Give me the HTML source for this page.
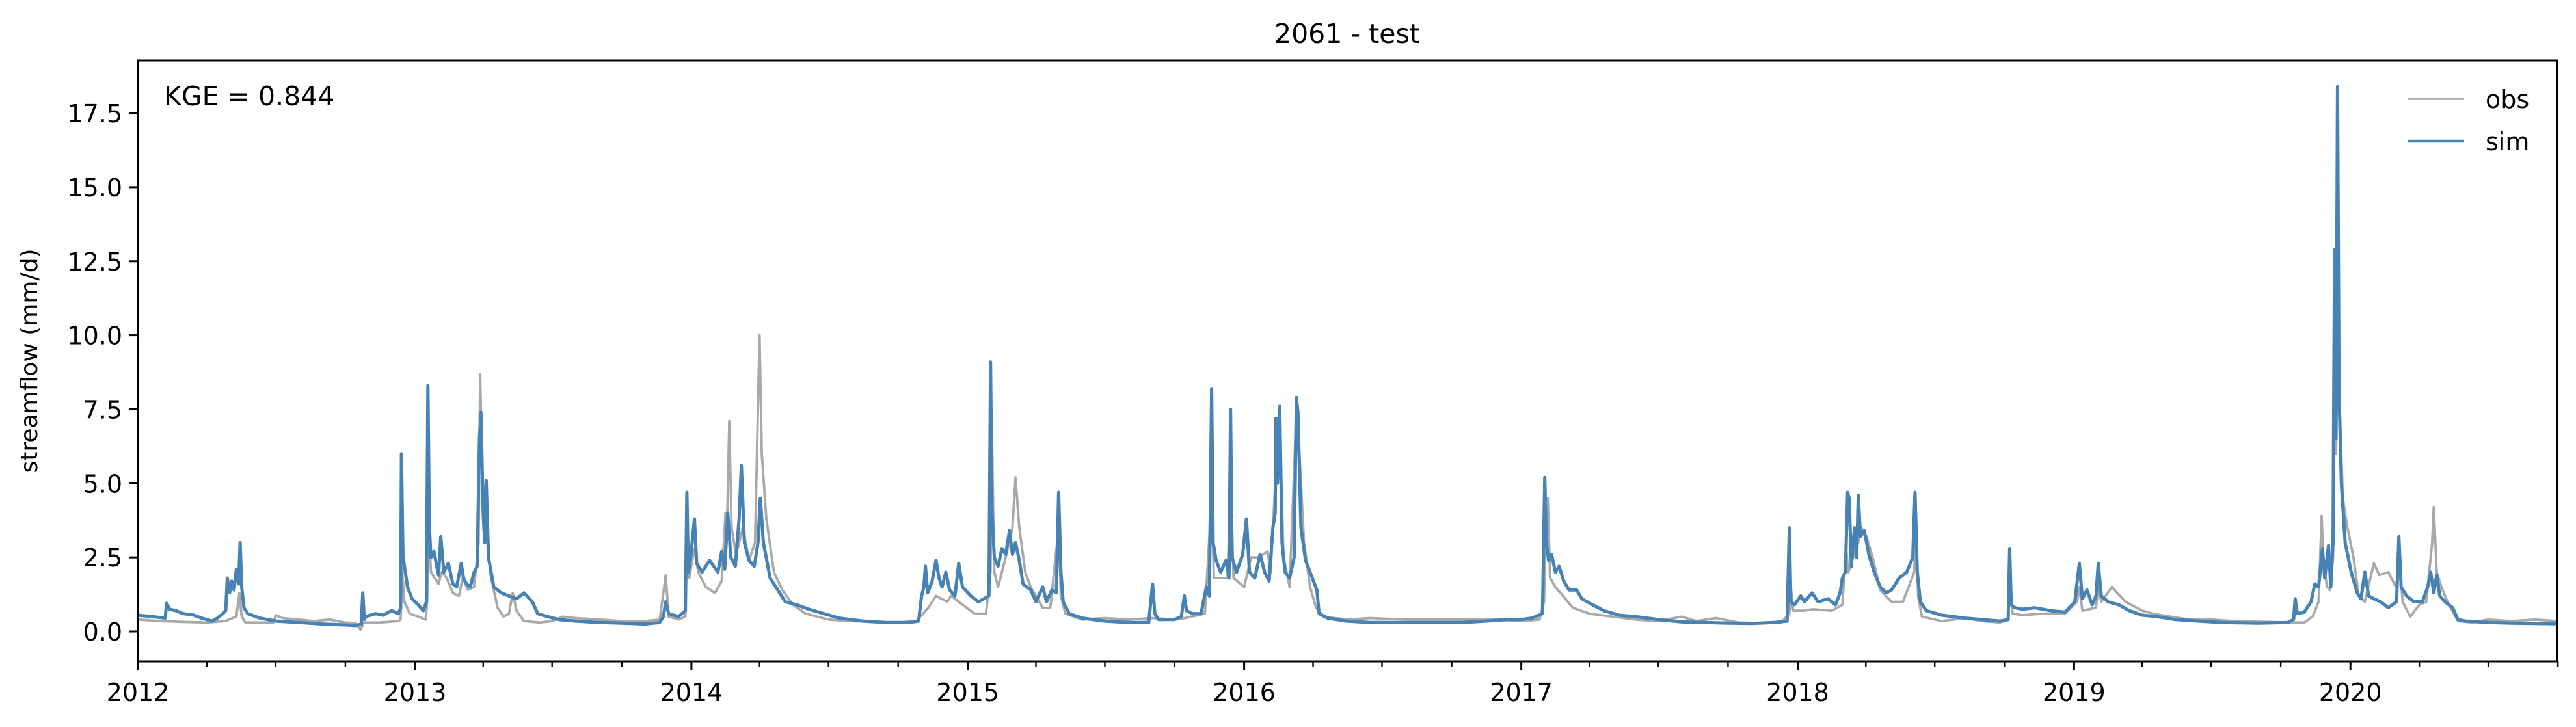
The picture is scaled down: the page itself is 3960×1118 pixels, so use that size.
<!DOCTYPE html>
<html><head><meta charset="utf-8"><title>2061 - test</title>
<style>
html,body{margin:0;padding:0;background:#fff;}
svg{display:block;font-family:"DejaVu Sans","Liberation Sans",sans-serif;}
</style></head>
<body>
<svg id="chart" width="3960" height="1118" viewBox="0 0 3960 1118" xmlns="http://www.w3.org/2000/svg">
<rect x="0" y="0" width="3960" height="1118" fill="#fff"/>
<text x="2071" y="66" font-size="41" text-anchor="middle">2061 - test</text>
<text transform="translate(57,555) rotate(-90)" font-size="36" text-anchor="middle">streamflow (mm/d)</text>
<g id="plot"></g>
<text x="252" y="162" font-size="41">KGE = 0.844</text>
<g>
<line x1="3701" y1="152" x2="3788" y2="152" stroke="#a9a9a9" stroke-width="3.5"/>
<text x="3821" y="166" font-size="38">obs</text>
<line x1="3701" y1="217" x2="3788" y2="217" stroke="#4682b4" stroke-width="4.5"/>
<text x="3821" y="231" font-size="38">sim</text>
</g>
</svg>
<script>
const obsPoints = [
["2012-01-01",0.4],["2012-02-01",0.35],["2012-03-01",0.32],["2012-04-01",0.3],["2012-04-25",0.35],["2012-05-10",0.5],["2012-05-14",1.3],["2012-05-17",0.5],["2012-05-22",0.3],["2012-06-15",0.3],["2012-06-28",0.3],["2012-07-01",0.55],["2012-07-10",0.45],["2012-08-01",0.4],["2012-08-20",0.35],["2012-09-10",0.4],["2012-09-30",0.3],["2012-10-15",0.28],["2012-10-21",0.05],["2012-10-25",0.3],["2012-11-15",0.3],["2012-12-10",0.35],["2012-12-13",0.4],["2012-12-15",2.0],["2012-12-18",1.0],["2012-12-25",0.6],
["2013-01-05",0.5],["2013-01-15",0.4],["2013-01-17",1.0],["2013-01-19",3.5],["2013-01-22",2.0],["2013-02-01",1.6],["2013-02-05",2.0],["2013-02-12",1.8],["2013-02-20",1.3],["2013-02-28",1.2],["2013-03-05",1.8],["2013-03-12",1.4],["2013-03-20",1.5],["2013-03-26",3.0],["2013-03-28",8.7],["2013-03-31",5.0],["2013-04-05",4.5],["2013-04-10",2.0],["2013-04-20",0.8],["2013-04-28",0.5],["2013-05-05",0.6],["2013-05-10",1.3],["2013-05-15",0.7],["2013-05-25",0.35],["2013-06-15",0.3],["2013-07-01",0.35],["2013-07-15",0.5],["2013-08-01",0.45],["2013-09-01",0.4],["2013-10-01",0.35],["2013-11-01",0.35],["2013-11-20",0.4],["2013-11-26",1.5],["2013-11-28",1.9],["2013-12-02",0.5],["2013-12-15",0.4],["2013-12-24",0.5],["2013-12-26",3.0],["2013-12-29",1.8],
["2014-01-05",2.8],["2014-01-10",2.0],["2014-01-20",1.5],["2014-02-01",1.3],["2014-02-10",1.7],["2014-02-15",4.0],["2014-02-17",3.5],["2014-02-20",7.1],["2014-02-23",3.5],["2014-03-01",2.6],["2014-03-10",3.5],["2014-03-18",2.4],["2014-03-26",3.0],["2014-04-01",10.0],["2014-04-04",6.0],["2014-04-10",3.8],["2014-04-20",2.0],["2014-05-01",1.4],["2014-05-15",0.9],["2014-06-01",0.6],["2014-07-01",0.4],["2014-08-01",0.35],["2014-10-01",0.3],["2014-10-25",0.35],["2014-11-10",0.8],["2014-11-20",1.2],["2014-12-05",1.0],["2014-12-10",1.2],["2014-12-20",1.0],
["2015-01-10",0.6],["2015-01-25",0.6],["2015-01-31",2.0],["2015-02-02",6.5],["2015-02-05",2.0],["2015-02-10",1.5],["2015-02-20",2.5],["2015-03-01",3.5],["2015-03-05",5.2],["2015-03-10",3.5],["2015-03-18",2.0],["2015-03-25",1.5],["2015-04-10",0.8],["2015-04-20",0.8],["2015-05-01",3.5],["2015-05-04",1.2],["2015-05-10",0.6],["2015-06-01",0.4],["2015-07-01",0.45],["2015-08-01",0.4],["2015-09-01",0.45],["2015-10-01",0.4],["2015-10-15",0.45],["2015-11-10",0.6],["2015-11-19",4.5],["2015-11-22",1.8],["2015-12-10",1.8],["2015-12-14",5.0],["2015-12-18",1.8],
["2016-01-01",1.5],["2016-01-10",2.5],["2016-01-20",2.5],["2016-02-01",2.7],["2016-02-05",2.0],["2016-02-11",5.0],["2016-02-12",6.5],["2016-02-17",7.0],["2016-02-22",2.5],["2016-03-01",1.5],["2016-03-10",7.5],["2016-03-14",6.0],["2016-03-20",3.0],["2016-03-28",1.5],["2016-04-05",0.8],["2016-04-15",0.5],["2016-05-15",0.4],["2016-06-15",0.45],["2016-08-01",0.4],["2016-10-01",0.4],["2016-12-01",0.4],
["2017-01-01",0.35],["2017-01-25",0.4],["2017-01-31",1.0],["2017-02-02",3.5],["2017-02-05",4.5],["2017-02-08",1.8],["2017-02-15",1.5],["2017-02-25",1.2],["2017-03-10",0.8],["2017-04-01",0.6],["2017-05-01",0.5],["2017-06-01",0.4],["2017-07-01",0.35],["2017-08-01",0.5],["2017-08-20",0.35],["2017-09-15",0.45],["2017-10-15",0.3],["2017-11-15",0.28],["2017-12-10",0.3],["2017-12-21",0.6],["2017-12-23",1.5],["2017-12-26",0.7],
["2018-01-10",0.7],["2018-01-20",0.75],["2018-02-15",0.7],["2018-03-01",0.9],["2018-03-06",2.8],["2018-03-09",2.0],["2018-03-15",2.5],["2018-03-22",3.0],["2018-03-26",3.5],["2018-04-02",3.2],["2018-04-10",2.5],["2018-04-20",1.4],["2018-05-05",1.0],["2018-05-20",1.0],["2018-06-04",2.0],["2018-06-06",4.0],["2018-06-09",1.2],["2018-06-14",0.5],["2018-07-10",0.35],["2018-08-10",0.45],["2018-09-01",0.35],["2018-09-25",0.3],["2018-10-06",0.4],["2018-10-08",1.5],["2018-10-12",0.6],["2018-10-25",0.55],["2018-11-20",0.6],["2018-12-20",0.6],
["2019-01-05",1.0],["2019-01-08",1.5],["2019-01-12",0.7],["2019-01-30",0.8],["2019-02-02",1.5],["2019-02-06",1.0],["2019-02-20",1.5],["2019-03-10",1.0],["2019-04-01",0.7],["2019-04-15",0.6],["2019-06-01",0.4],["2019-07-01",0.4],["2019-08-01",0.35],["2019-10-15",0.3],["2019-11-01",0.3],["2019-11-12",0.5],["2019-11-20",1.0],["2019-11-24",3.9],["2019-11-26",2.5],["2019-12-01",1.5],["2019-12-05",1.4],["2019-12-09",2.5],["2019-12-11",10.7],["2019-12-13",6.0],["2019-12-15",10.5],["2019-12-18",7.5],["2019-12-22",4.5],["2019-12-28",3.5],
["2020-01-05",2.5],["2020-01-12",1.2],["2020-01-20",1.0],["2020-02-01",2.3],["2020-02-08",1.9],["2020-02-20",2.0],["2020-03-01",1.5],["2020-03-06",2.3],["2020-03-10",1.0],["2020-03-20",0.5],["2020-04-01",0.9],["2020-04-10",1.0],["2020-04-18",3.0],["2020-04-20",4.2],["2020-04-24",2.0],["2020-04-30",1.5],["2020-05-10",0.9],["2020-05-22",0.35],["2020-06-10",0.3],["2020-07-01",0.4],["2020-08-01",0.35],["2020-09-01",0.4],["2020-09-30",0.35]
];
const simPoints = [
["2012-01-01",0.55],["2012-01-20",0.5],["2012-02-06",0.45],["2012-02-08",0.95],["2012-02-12",0.75],["2012-02-20",0.7],["2012-03-01",0.6],["2012-03-15",0.55],["2012-03-25",0.45],["2012-04-08",0.35],["2012-04-15",0.45],["2012-04-22",0.6],["2012-04-26",0.7],["2012-04-28",1.8],["2012-05-01",1.3],["2012-05-04",1.7],["2012-05-07",1.4],["2012-05-10",2.1],["2012-05-13",1.6],["2012-05-15",3.0],["2012-05-17",1.5],["2012-05-20",0.8],["2012-05-25",0.6],["2012-06-10",0.45],["2012-07-01",0.35],["2012-08-01",0.3],["2012-09-01",0.25],["2012-10-01",0.22],["2012-10-15",0.2],["2012-10-22",0.25],["2012-10-24",1.3],["2012-10-26",0.4],["2012-10-28",0.5],["2012-11-10",0.6],["2012-11-20",0.55],["2012-12-01",0.7],["2012-12-10",0.6],["2012-12-13",0.8],["2012-12-14",6.0],["2012-12-16",2.6],["2012-12-18",2.2],["2012-12-22",1.5],["2012-12-28",1.1],
["2013-01-05",0.9],["2013-01-12",0.7],["2013-01-16",1.0],["2013-01-18",8.3],["2013-01-20",3.5],["2013-01-22",2.5],["2013-01-26",2.7],["2013-02-01",1.9],["2013-02-04",3.2],["2013-02-08",2.0],["2013-02-14",2.3],["2013-02-20",1.6],["2013-02-25",1.5],["2013-03-03",2.3],["2013-03-06",1.8],["2013-03-10",1.6],["2013-03-15",1.5],["2013-03-20",2.0],["2013-03-24",2.2],["2013-03-27",6.5],["2013-03-29",7.4],["2013-04-01",4.0],["2013-04-03",3.0],["2013-04-05",5.1],["2013-04-08",2.5],["2013-04-15",1.5],["2013-04-25",1.3],["2013-05-05",1.2],["2013-05-15",1.1],["2013-05-25",1.3],["2013-06-05",1.0],["2013-06-12",0.6],["2013-06-25",0.5],["2013-07-10",0.4],["2013-08-01",0.35],["2013-09-01",0.3],["2013-10-01",0.28],["2013-11-01",0.25],["2013-11-20",0.3],["2013-11-25",0.5],["2013-11-28",1.0],["2013-12-02",0.6],["2013-12-15",0.5],["2013-12-24",0.7],["2013-12-26",4.7],["2013-12-28",2.0],["2013-12-31",2.5],
["2014-01-05",3.8],["2014-01-08",2.3],["2014-01-15",2.0],["2014-01-25",2.4],["2014-02-05",2.0],["2014-02-10",2.7],["2014-02-14",2.1],["2014-02-18",4.0],["2014-02-22",2.5],["2014-02-28",2.2],["2014-03-05",3.8],["2014-03-08",5.6],["2014-03-12",3.0],["2014-03-18",2.4],["2014-03-25",2.2],["2014-03-30",3.0],["2014-04-02",4.5],["2014-04-06",3.0],["2014-04-15",1.8],["2014-04-25",1.4],["2014-05-05",1.0],["2014-05-20",0.9],["2014-06-05",0.75],["2014-06-25",0.6],["2014-07-15",0.45],["2014-08-15",0.35],["2014-09-15",0.3],["2014-10-15",0.3],["2014-10-28",0.35],["2014-11-01",1.2],["2014-11-04",1.5],["2014-11-06",2.2],["2014-11-09",1.3],["2014-11-15",1.7],["2014-11-20",2.4],["2014-11-24",1.8],["2014-11-28",1.5],["2014-12-03",2.0],["2014-12-08",1.4],["2014-12-15",1.2],["2014-12-20",2.3],["2014-12-25",1.5],
["2015-01-05",1.2],["2015-01-15",1.0],["2015-01-29",1.2],["2015-01-31",9.1],["2015-02-02",4.0],["2015-02-05",2.5],["2015-02-10",2.2],["2015-02-15",2.8],["2015-02-20",2.6],["2015-02-25",3.4],["2015-03-01",2.6],["2015-03-05",3.0],["2015-03-10",2.4],["2015-03-15",1.6],["2015-03-25",1.4],["2015-04-01",1.0],["2015-04-10",1.5],["2015-04-15",1.0],["2015-04-22",1.4],["2015-04-28",1.3],["2015-05-01",4.7],["2015-05-04",2.0],["2015-05-07",1.0],["2015-05-15",0.6],["2015-06-01",0.45],["2015-07-01",0.35],["2015-08-01",0.3],["2015-08-28",0.3],["2015-09-02",1.6],["2015-09-05",0.6],["2015-09-10",0.4],["2015-10-01",0.4],["2015-10-10",0.5],["2015-10-14",1.2],["2015-10-17",0.7],["2015-10-25",0.6],["2015-11-05",0.6],["2015-11-12",1.5],["2015-11-16",1.2],["2015-11-19",8.2],["2015-11-21",3.0],["2015-11-25",2.4],["2015-12-01",2.0],["2015-12-08",2.4],["2015-12-12",1.8],["2015-12-14",7.5],["2015-12-16",2.5],["2015-12-22",2.0],["2015-12-30",2.6],
["2016-01-04",3.8],["2016-01-08",2.0],["2016-01-15",1.8],["2016-01-22",2.6],["2016-01-28",2.0],["2016-02-03",1.7],["2016-02-08",3.5],["2016-02-11",4.0],["2016-02-12",7.2],["2016-02-14",5.0],["2016-02-17",7.6],["2016-02-20",3.0],["2016-02-24",2.0],["2016-03-01",1.8],["2016-03-07",2.5],["2016-03-10",7.9],["2016-03-12",7.4],["2016-03-16",3.5],["2016-03-22",2.4],["2016-03-28",2.0],["2016-04-03",1.6],["2016-04-06",1.4],["2016-04-09",0.6],["2016-04-20",0.45],["2016-05-15",0.35],["2016-06-15",0.3],["2016-08-01",0.3],["2016-09-15",0.3],["2016-10-15",0.3],["2016-11-15",0.35],["2016-12-15",0.4],
["2017-01-01",0.4],["2017-01-15",0.45],["2017-01-29",0.6],["2017-02-01",5.2],["2017-02-03",3.0],["2017-02-06",2.4],["2017-02-10",2.6],["2017-02-15",2.0],["2017-02-20",2.2],["2017-02-26",1.7],["2017-03-05",1.4],["2017-03-15",1.4],["2017-03-22",1.1],["2017-04-05",0.9],["2017-04-20",0.7],["2017-05-10",0.55],["2017-06-01",0.5],["2017-07-01",0.4],["2017-08-01",0.32],["2017-09-01",0.3],["2017-10-01",0.28],["2017-11-01",0.27],["2017-12-01",0.3],["2017-12-18",0.35],["2017-12-21",3.5],["2017-12-23",1.0],["2017-12-28",0.9],
["2018-01-05",1.2],["2018-01-10",1.0],["2018-01-20",1.3],["2018-01-28",1.0],["2018-02-10",1.1],["2018-02-20",0.9],["2018-02-26",1.3],["2018-03-01",1.8],["2018-03-05",2.0],["2018-03-08",4.7],["2018-03-10",4.5],["2018-03-13",2.2],["2018-03-17",3.5],["2018-03-20",2.5],["2018-03-22",4.6],["2018-03-25",3.2],["2018-03-30",3.4],["2018-04-05",2.6],["2018-04-12",2.0],["2018-04-20",1.5],["2018-04-28",1.3],["2018-05-05",1.4],["2018-05-15",1.8],["2018-05-25",2.0],["2018-06-02",2.5],["2018-06-05",4.7],["2018-06-08",2.0],["2018-06-12",1.0],["2018-06-20",0.7],["2018-07-10",0.55],["2018-08-10",0.45],["2018-09-01",0.4],["2018-09-25",0.35],["2018-10-06",0.4],["2018-10-08",2.8],["2018-10-10",0.9],["2018-10-15",0.8],["2018-10-25",0.75],["2018-11-10",0.8],["2018-12-01",0.7],["2018-12-20",0.65],
["2019-01-02",1.0],["2019-01-08",2.3],["2019-01-12",1.1],["2019-01-18",1.4],["2019-01-25",0.9],["2019-01-30",1.2],["2019-02-02",2.3],["2019-02-06",1.2],["2019-02-15",1.0],["2019-03-01",0.9],["2019-03-15",0.7],["2019-04-01",0.55],["2019-04-20",0.5],["2019-05-15",0.4],["2019-06-15",0.35],["2019-07-15",0.3],["2019-09-01",0.28],["2019-10-10",0.3],["2019-10-18",0.4],["2019-10-20",1.1],["2019-10-23",0.6],["2019-11-01",0.65],["2019-11-10",1.0],["2019-11-15",1.6],["2019-11-20",1.5],["2019-11-25",2.8],["2019-11-28",1.8],["2019-12-03",2.9],["2019-12-06",1.5],["2019-12-09",3.0],["2019-12-11",12.9],["2019-12-13",6.5],["2019-12-15",18.4],["2019-12-17",8.0],["2019-12-20",5.0],["2019-12-25",3.0],
["2020-01-02",2.0],["2020-01-10",1.3],["2020-01-15",1.1],["2020-01-20",2.0],["2020-01-25",1.2],["2020-02-01",1.1],["2020-02-10",1.0],["2020-02-20",0.8],["2020-03-02",1.0],["2020-03-05",3.2],["2020-03-08",1.5],["2020-03-15",1.2],["2020-03-25",1.0],["2020-04-05",1.0],["2020-04-12",1.5],["2020-04-16",2.0],["2020-04-20",1.3],["2020-04-24",1.9],["2020-04-28",1.2],["2020-05-05",1.0],["2020-05-15",0.8],["2020-05-22",0.4],["2020-06-01",0.35],["2020-07-01",0.3],["2020-08-01",0.28],["2020-09-30",0.26]
];
const yTickValues = [0.0,2.5,5.0,7.5,10.0,12.5,15.0,17.5];
const yTickLabels = ["0.0","2.5","5.0","7.5","10.0","12.5","15.0","17.5"];
const xTickYears = [2012,2013,2014,2015,2016,2017,2018,2019,2020];

const L=212,R=3931,T=93,B=1017;
const t0=Date.UTC(2012,0,1), t1=Date.UTC(2020,8,30);
const yMin=-1.01, yMax=19.28;
function xs(d){const t=(typeof d==="string")?Date.parse(d+"T00:00:00Z"):d;return L+(t-t0)/(t1-t0)*(R-L);}
function ys(v){return B-(v-yMin)/(yMax-yMin)*(B-T);}
const NS="http://www.w3.org/2000/svg";
const plot=document.getElementById('plot');
function mk(tag,attrs){const e=document.createElementNS(NS,tag);for(const k in attrs)e.setAttribute(k,attrs[k]);return e;}

const cp=mk('clipPath',{id:'clip'});cp.appendChild(mk('rect',{x:L,y:T,width:R-L,height:B-T}));plot.appendChild(cp);

function series(pts,color,w,name){
  const p=pts.map(q=>xs(q[0]).toFixed(1)+","+ys(q[1]).toFixed(1)).join(" ");
  const pl=mk('polyline',{points:p,fill:'none',stroke:color,'stroke-width':w,'stroke-linejoin':'round','clip-path':'url(#clip)'});
  
  
  plot.appendChild(pl);
}
series(obsPoints,'#a9a9a9',3.8,'obs-line');
series(simPoints,'#4682b4',5,'sim-line');

const fr=mk('rect',{x:L,y:T,width:R-L,height:B-T,fill:'none',stroke:'#000','stroke-width':3});


plot.appendChild(fr);

yTickValues.forEach((v,i)=>{
  const y=ys(v);
  const tk=mk('line',{x1:L-14,y1:y,x2:L,y2:y,stroke:'#000','stroke-width':3});
  
  
  plot.appendChild(tk);
  const tx=mk('text',{x:L-24,y:y+14,'font-size':38,'text-anchor':'end'});
  tx.textContent=yTickLabels[i];
  
  
  plot.appendChild(tx);
});
xTickYears.forEach(yr=>{
  const x=xs(Date.UTC(yr,0,1));
  const tk=mk('line',{x1:x,y1:B,x2:x,y2:B+14,stroke:'#000','stroke-width':3});
  
  
  plot.appendChild(tk);
  const tx=mk('text',{x:x,y:1078,'font-size':38,'text-anchor':'middle'});
  tx.textContent=String(yr);
  
  
  plot.appendChild(tx);
  [3,6,9].forEach(m=>{
    const t=Date.UTC(yr,m,1); if(t>t1+86400000) return;
    const mx=xs(t);
    const mt=mk('line',{x1:mx,y1:B,x2:mx,y2:B+8,stroke:'#000','stroke-width':2.4});
    
    
    plot.appendChild(mt);
  });
});
</script>
</body></html>
